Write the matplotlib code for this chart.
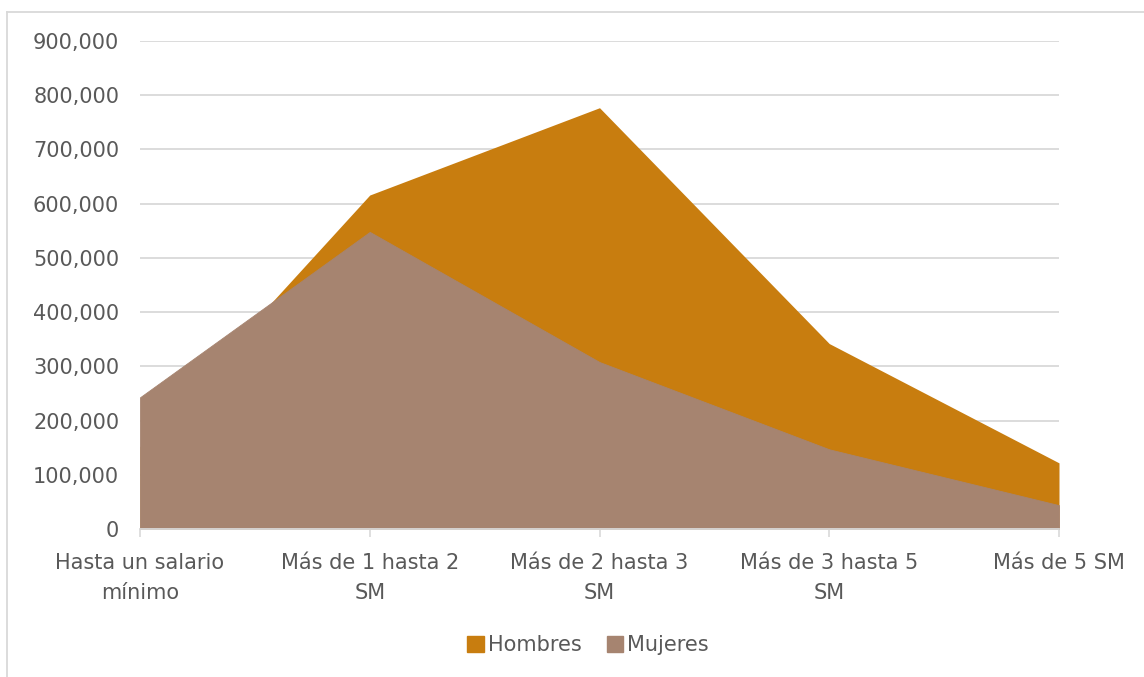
import matplotlib.pyplot as plt
from matplotlib.lines import Line2D
from matplotlib.patches import Patch

categories = ["Hasta un salario\nmínimo", "Más de 1 hasta 2\nSM", "Más de 2 hasta 3\nSM",
              "Más de 3 hasta 5\nSM", "Más de 5 SM"]
hombres = [152000, 616000, 777000, 342000, 122000]
mujeres = [243000, 548000, 308000, 147000, 44000]
yticks = list(range(0, 900001, 100000))

orange = "#C87D0F"
brown = "#A68470"
grid_c = "#D9D9D9"
text_c = "#595959"

plt.rcParams['font.family'] = ['DejaVu Sans']

fig = plt.figure(figsize=(11.44, 6.77), dpi=100)
ax = fig.add_axes([0.1224, 0.2186, 0.8033, 0.7208])

x = list(range(len(categories)))
ax.fill_between(x, hombres, 0, color=orange, linewidth=0, zorder=2)
ax.fill_between(x, mujeres, 0, facecolor=brown, edgecolor=brown, linewidth=0.6, zorder=3)

ax.set_xlim(0, len(categories) - 1)
ax.set_ylim(0, 900000)
ax.set_yticks(yticks)
ax.set_yticklabels([f"{v:,}" for v in yticks])
ax.yaxis.grid(True, color=grid_c, linewidth=1.3, zorder=1)
ax.set_axisbelow(True)

ax.set_xticks(x)
ax.set_xticklabels(categories, linespacing=1.65)
ax.tick_params(axis='y', length=0, pad=15, labelsize=15, labelcolor=text_c)
ax.tick_params(axis='x', length=6, width=1.2, color=grid_c, pad=11, labelsize=15, labelcolor=text_c)

for s in ['top', 'right', 'left']:
    ax.spines[s].set_visible(False)
ax.spines['bottom'].set_color(grid_c)
ax.spines['bottom'].set_linewidth(1.3)
ax.spines['bottom'].set_zorder(4)

# outer chart frame (partially visible)
fig.add_artist(Line2D([7 / 1144, 7 / 1144], [0, 1 - 12 / 677], color=grid_c, linewidth=1.3))
fig.add_artist(Line2D([7 / 1144, 1], [1 - 12 / 677, 1 - 12 / 677], color=grid_c, linewidth=1.3))

handles = [Patch(color=orange, label="Hombres"), Patch(color=brown, label="Mujeres")]
fig.legend(handles=handles, loc='center', bbox_to_anchor=(588 / 1144, 1 - 645 / 677), ncol=2,
           frameon=False, fontsize=15, labelcolor=text_c, handlelength=0.8, handleheight=0.8,
           handletextpad=0.2, columnspacing=1.2)

fig.savefig("out.png", dpi=100)
